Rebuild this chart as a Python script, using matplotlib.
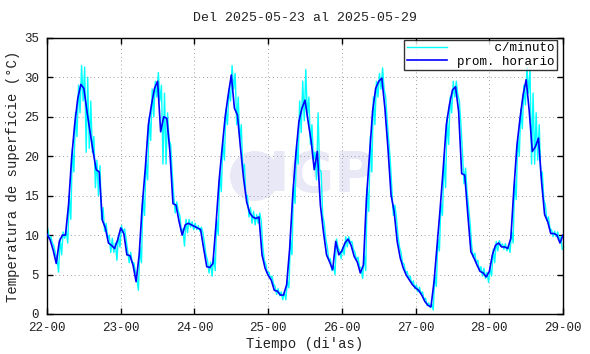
import numpy as np
import matplotlib
matplotlib.use("Agg")
import matplotlib.pyplot as plt
from matplotlib.patches import Ellipse

# promedio horario (22-00 ... 29-00), un valor por hora
prom_horario = [
    10.1, 9.4, 8.1, 6.4, 9.2, 10.0, 10.0, 13.8, 19.7, 24.0, 27.3, 29.1,
    28.6, 25.7, 23.1, 20.6, 18.3, 18.0, 11.9, 10.9, 9.0, 8.7, 8.3, 9.4,      # 22
    10.9, 10.2, 7.5, 7.4, 6.2, 4.1, 7.5, 13.8, 18.5, 24.0, 26.5, 28.6,
    29.5, 23.1, 25.0, 24.8, 20.6, 14.0, 13.8, 11.7, 10.0, 11.3, 11.5, 11.3,  # 23
    11.1, 10.9, 10.7, 8.3, 6.0, 5.9, 6.4, 11.3, 16.8, 21.0, 25.0, 27.8,
    30.3, 26.1, 25.2, 21.0, 17.2, 14.2, 12.8, 12.3, 12.1, 12.3, 7.5, 5.8,    # 24
    4.9, 4.3, 3.0, 2.9, 2.4, 2.4, 3.7, 8.3, 15.1, 20.2, 24.4, 26.1,
    27.1, 24.4, 21.9, 18.3, 20.6, 13.8, 10.4, 7.5, 6.6, 5.6, 9.2, 7.5,       # 25
    8.0, 9.0, 9.5, 8.7, 7.3, 6.6, 5.2, 6.2, 14.7, 20.2, 25.7, 28.6,
    29.5, 29.9, 26.1, 21.0, 15.1, 13.0, 9.2, 7.1, 5.8, 4.9, 4.3, 3.7,        # 26
    3.3, 3.0, 2.4, 1.6, 1.1, 0.9, 4.1, 8.7, 13.4, 18.5, 24.0, 26.5,
    28.4, 28.8, 25.7, 17.8, 17.6, 12.6, 7.9, 7.1, 6.2, 5.4, 5.2, 4.7,        # 27
    5.4, 7.5, 8.7, 9.0, 8.5, 8.5, 8.3, 9.6, 15.9, 21.4, 24.8, 27.8,
    29.7, 25.7, 20.6, 21.2, 22.3, 16.8, 12.6, 11.7, 10.2, 10.2, 10.0, 9.0,   # 28
    10.0,                                                                    # 29-00
]

# lecturas por minuto: maximo y minimo dentro de cada hora
minuto_max = [
    10.8, 9.8, 8.6, 7.0, 9.6, 10.4, 10.5, 15.0, 21.0, 25.5, 29.0, 31.5,
    31.3, 30.0, 27.0, 22.5, 19.5, 18.8, 13.5, 11.5, 10.0, 9.6, 9.0, 10.0,
    11.2, 10.8, 8.0, 7.8, 6.5, 4.5, 8.5, 15.0, 19.5, 25.0, 28.5, 29.5,
    30.6, 29.0, 28.0, 25.5, 21.5, 15.0, 14.2, 12.5, 10.8, 12.0, 12.0, 11.7,
    11.5, 11.2, 11.0, 9.0, 6.8, 6.6, 7.3, 12.0, 18.0, 22.0, 26.0, 28.5,
    31.5, 30.5, 27.5, 24.0, 19.0, 15.0, 13.5, 13.0, 12.6, 12.8, 8.5, 6.3,
    5.3, 4.8, 3.5, 3.2, 2.8, 2.8, 4.2, 9.5, 16.5, 21.5, 27.0, 29.5,
    31.0, 27.5, 24.0, 20.5, 25.5, 18.0, 11.5, 8.5, 7.0, 6.2, 9.5, 8.0,
    8.5, 9.8, 9.8, 9.2, 7.8, 7.2, 5.8, 7.5, 16.0, 22.5, 27.5, 29.5,
    30.5, 31.2, 27.5, 22.0, 16.0, 13.8, 10.0, 7.8, 6.3, 5.4, 4.8, 4.2,
    3.7, 3.4, 2.8, 2.0, 1.4, 1.3, 5.0, 9.5, 14.0, 20.0, 25.0, 27.5,
    29.5, 29.5, 27.0, 20.5, 18.5, 13.5, 8.7, 7.7, 6.8, 6.0, 5.8, 5.3,
    5.8, 8.2, 9.2, 9.3, 8.9, 8.9, 8.7, 10.5, 17.0, 22.5, 26.0, 29.0,
    31.3, 31.0, 28.0, 25.5, 24.0, 18.0, 13.8, 12.3, 10.7, 10.5, 10.4, 9.8,
]
minuto_min = [
    9.5, 9.0, 7.6, 5.3, 7.5, 9.6, 9.0, 12.0, 18.0, 22.5, 25.5, 27.0,
    20.5, 21.0, 20.5, 16.0, 15.0, 12.0, 10.5, 9.5, 7.8, 7.8, 6.8, 8.5,
    10.3, 9.5, 6.5, 6.5, 5.5, 3.0, 6.5, 12.5, 17.0, 22.0, 25.0, 27.5,
    27.0, 19.0, 19.0, 22.0, 18.0, 12.8, 13.0, 10.5, 8.6, 10.3, 11.0, 10.7,
    10.7, 10.5, 10.3, 7.5, 5.2, 4.8, 5.5, 10.0, 15.5, 19.5, 24.0, 27.0,
    28.5, 24.0, 22.0, 18.0, 15.0, 12.3, 11.5, 11.3, 11.5, 11.8, 6.8, 5.2,
    4.5, 3.8, 2.5, 2.3, 1.8, 1.8, 3.3, 7.5, 14.0, 19.0, 23.0, 24.5,
    25.0, 21.5, 19.5, 17.0, 18.3, 12.5, 9.5, 6.8, 5.5, 5.0, 8.5, 7.0,
    7.5, 8.5, 9.0, 8.2, 6.8, 6.0, 4.5, 5.5, 13.0, 18.0, 24.0, 27.5,
    28.5, 28.5, 24.5, 19.5, 12.5, 12.2, 8.5, 6.5, 5.2, 4.5, 3.8, 3.2,
    2.8, 2.6, 1.8, 1.1, 0.8, 0.5, 3.5, 8.0, 12.5, 16.0, 21.5, 25.5,
    27.5, 27.8, 24.0, 16.5, 15.5, 11.5, 7.2, 6.5, 5.5, 4.8, 4.5, 4.0,
    4.8, 6.5, 8.0, 8.6, 8.2, 8.0, 7.8, 9.0, 14.5, 20.0, 23.5, 26.5,
    28.0, 19.0, 19.0, 19.5, 17.5, 14.5, 11.8, 10.8, 9.8, 9.8, 9.4, 8.2,
]

etiquetas_x = ["22-00", "23-00", "24-00", "25-00", "26-00", "27-00", "28-00", "29-00"]
titulo = "Del 2025-05-23 al 2025-05-29"

mono = "Liberation Mono"

fig = plt.figure(figsize=(5.9, 3.54), dpi=100)
ax = fig.add_axes([0.0797, 0.113, 0.8746, 0.780])

# marca de agua IGP
ax.add_patch(Ellipse((0.403, 0.50), 0.097, 0.181, transform=ax.transAxes,
                     color="#e8e8f6", zorder=0, lw=0))
ax.text(0.533, 0.50, "IGP", transform=ax.transAxes, ha="center", va="center",
        fontsize=40, fontweight="bold", color="#e8e8f6", family="DejaVu Sans", zorder=0)

# serie por minuto (max/min de cada hora alternados)
horas = np.arange(len(minuto_max))
xm = np.column_stack([horas + 0.25, horas + 0.75]).ravel()
ym = np.column_stack([minuto_max, minuto_min]).ravel()
ax.plot(xm, ym, color="#00ffff", lw=1.0, label="     c/minuto", zorder=2)

xh = np.arange(len(prom_horario))
ax.plot(xh, prom_horario, color="#0000ff", lw=1.2, label="prom. horario", zorder=3)

ax.set_xlim(0, 168)
ax.set_ylim(0, 35)
ax.set_xticks(np.arange(0, 169, 24))
ax.set_xticklabels(etiquetas_x)
ax.set_yticks(np.arange(0, 36, 5))

ax.grid(True, ls=(0, (1, 3)), color="#a0a0a0", lw=0.7)
ax.tick_params(direction="in", top=True, right=True, length=4, width=1,
               labelsize=9, pad=6)
for lab in ax.get_xticklabels() + ax.get_yticklabels():
    lab.set_family(mono)
    lab.set_color("#222222")
for s in ax.spines.values():
    s.set_linewidth(1)

ax.set_title(titulo, family=mono, fontsize=9.5, pad=12, color="#222222")
ax.set_xlabel("Tiempo (di'as)", family=mono, fontsize=10, labelpad=2, color="#222222")
ax.set_ylabel("Temperatura de superficie (°C)", family=mono, fontsize=10,
              labelpad=3, color="#222222")

leg = ax.legend(loc="upper right", bbox_to_anchor=(0.988, 0.993),
                prop={"family": mono, "size": 9},
                frameon=True, fancybox=False, borderaxespad=0.0,
                handlelength=3.2, handletextpad=0.8, borderpad=0.2,
                labelspacing=0.1)
leg.get_frame().set_edgecolor("black")
leg.get_frame().set_linewidth(1)

fig.savefig("out.png", dpi=100)
